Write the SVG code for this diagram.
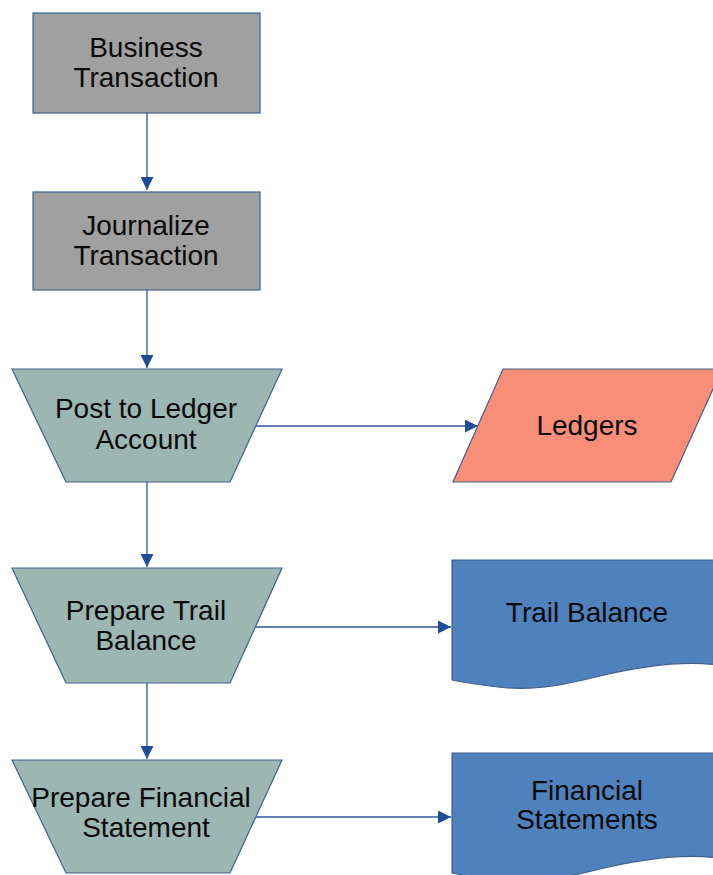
<svg xmlns="http://www.w3.org/2000/svg" width="713" height="875" viewBox="0 0 713 875">
<style>
  .lbl { font-family: "Liberation Sans", Arial, sans-serif; font-size: 28px; fill: #0a0a0a; text-anchor: middle; }
  .proc { fill: #a0a0a0; stroke: #41608f; stroke-width: 1.2; }
  .man { fill: #9cb6b1; stroke: #41608f; stroke-width: 1.2; }
  .io { fill: #f98e78; stroke: #41608f; stroke-width: 1.2; }
  .doc { fill: #4f81bd; stroke: #41608f; stroke-width: 1.2; }
  .conn { stroke: #2f5597; stroke-width: 1.3; fill: none; }
</style>
<defs>
  <marker id="arr" viewBox="0 0 10 10" refX="10" refY="5" markerWidth="15" markerHeight="13" markerUnits="userSpaceOnUse" orient="auto">
    <path d="M0,0 L10,5 L0,10 Z" fill="#1f4e96"/>
  </marker>
</defs>
<rect width="713" height="875" fill="#ffffff"/>
<g id="connectors">
  <line class="conn" x1="147" y1="113" x2="147" y2="190" marker-end="url(#arr)"/>
  <line class="conn" x1="147" y1="290" x2="147" y2="368" marker-end="url(#arr)"/>
  <line class="conn" x1="147" y1="482" x2="147" y2="567" marker-end="url(#arr)"/>
  <line class="conn" x1="147" y1="683" x2="147" y2="759" marker-end="url(#arr)"/>
  <line class="conn" x1="256" y1="426" x2="478" y2="426" marker-end="url(#arr)"/>
  <line class="conn" x1="256" y1="627" x2="451" y2="627" marker-end="url(#arr)"/>
  <line class="conn" x1="256" y1="817" x2="451" y2="817" marker-end="url(#arr)"/>
</g>
<g id="business-transaction">
  <rect class="proc" x="33" y="13" width="227" height="100"/>
  <text class="lbl" x="146" y="57">Business</text>
  <text class="lbl" x="146" y="87">Transaction</text>
</g>
<g id="journalize-transaction">
  <rect class="proc" x="33" y="192" width="227" height="98"/>
  <text class="lbl" x="146" y="235">Journalize</text>
  <text class="lbl" x="146" y="265">Transaction</text>
</g>
<g id="post-to-ledger">
  <polygon class="man" points="12,369 282,369 230,482 66,482"/>
  <text class="lbl" x="146" y="418">Post to Ledger</text>
  <text class="lbl" x="146" y="449">Account</text>
</g>
<g id="ledgers">
  <polygon class="io" points="503,369 722,369 671,482 453,482"/>
  <text class="lbl" x="587" y="435">Ledgers</text>
</g>
<g id="prepare-trail-balance">
  <polygon class="man" points="12,568 282,568 230,683 66,683"/>
  <text class="lbl" x="146" y="620">Prepare Trail</text>
  <text class="lbl" x="146" y="650">Balance</text>
</g>
<g id="trail-balance">
  <path class="doc" d="M452,560 H724 V666 C690,660 650,664 600,676 C560,686 530,692 490,686 C475,684 462,682 452,680 Z"/>
  <text class="lbl" x="587" y="622">Trail Balance</text>
</g>
<g id="prepare-financial-statement">
  <polygon class="man" points="12,760 282,760 230,873 66,873"/>
  <text class="lbl" x="141" y="807">Prepare Financial</text>
  <text class="lbl" x="146" y="837">Statement</text>
</g>
<g id="financial-statements">
  <path class="doc" d="M452,753 H724 V859 C690,853 650,857 600,869 C560,879 530,885 490,879 C475,877 462,875 452,873 Z"/>
  <text class="lbl" x="587" y="800">Financial</text>
  <text class="lbl" x="587" y="829">Statements</text>
</g>
</svg>
